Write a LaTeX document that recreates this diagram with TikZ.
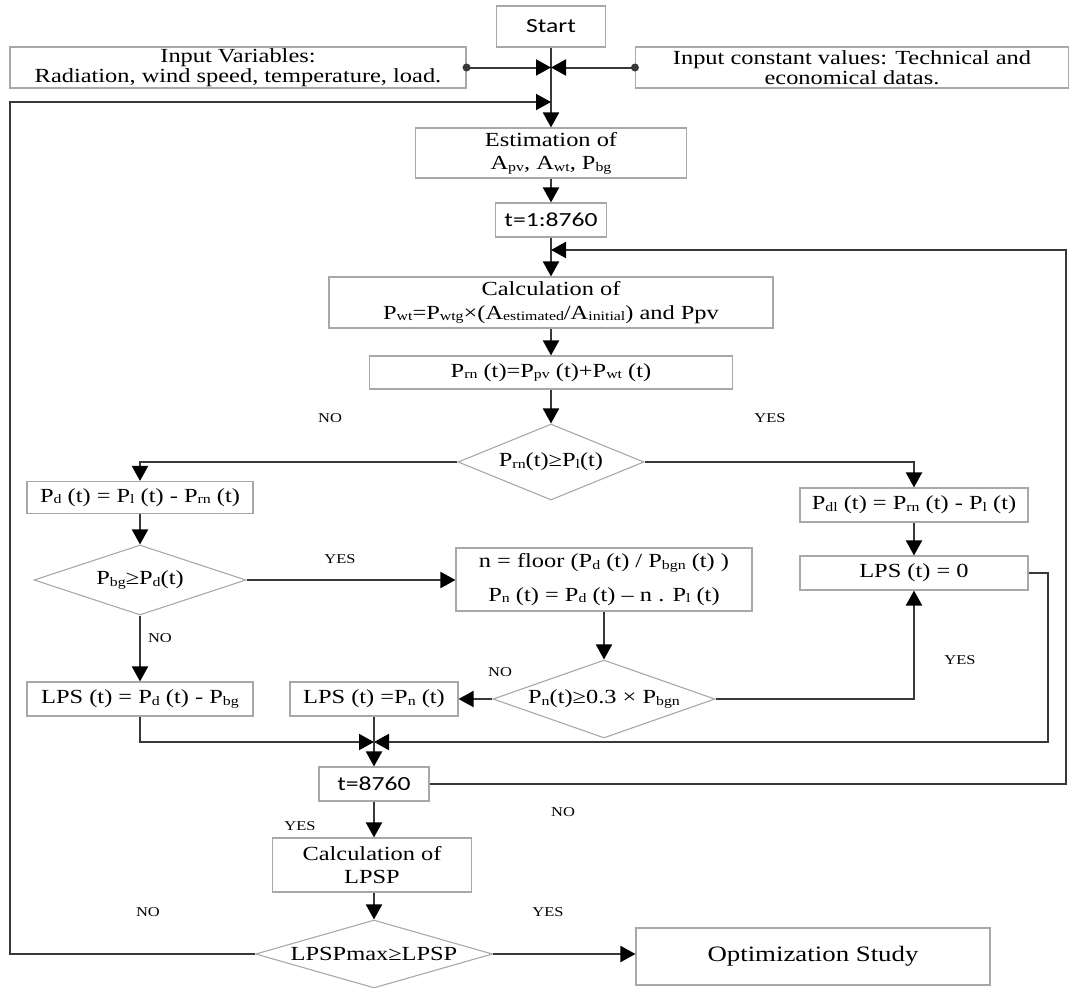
\documentclass[tikz,border=0pt]{standalone}
\usepackage{fontspec}
\setmainfont{Liberation Serif}[FakeStretch=1.22]
\newfontfamily\calfont{Carlito}[FakeStretch=1.28]
\usetikzlibrary{arrows.meta,shapes.geometric}
\definecolor{boxgray}{HTML}{A8A8A8}
\definecolor{linec}{HTML}{383838}
\newcommand{\lo}[1]{\raisebox{-1.5pt}{\fontsize{13}{13}\selectfont #1}}
\newcommand{\mainsz}{\fontsize{20}{23.5}\selectfont}
\newcommand{\inpsz}{\fontsize{20}{19.5}\selectfont}
\newcommand{\optsz}{\fontsize{22}{24}\selectfont}
\newcommand{\labsz}{\fontsize{13.5}{15}\selectfont}
\newcommand{\sanssz}{\calfont\fontsize{20}{23}\selectfont}
\begin{document}
\begin{tikzpicture}[x=1pt,y=-1pt,font=\mainsz,
  bx/.style={draw=boxgray,line width=1.1pt,inner sep=0pt,align=center},
  dia/.style={diamond,draw=boxgray,line width=1.1pt,inner sep=0pt,align=center},
  arr/.style={draw=linec,line width=2pt,-{Triangle[length=15pt,width=16pt,color=black]}},
  ln/.style={draw=linec,line width=2pt},
  lab/.style={font=\labsz,inner sep=0pt}]
\useasboundingbox (0,0) rectangle (1069,988);

% nodes
\node[bx,minimum width=109pt,minimum height=41pt,font=\sanssz] (start) at (551,26.5) {Start};
\node[bx,minimum width=456pt,minimum height=41pt,font=\inpsz] (inv) at (238,67.5) {Input Variables:\\Radiation, wind speed, temperature, load.};
\node[bx,minimum width=433pt,minimum height=41pt,font=\inpsz] (inc) at (852,67.5) {Input constant values: Technical and\\economical datas.};
\node[bx,minimum width=271pt,minimum height=50pt] (est) at (551,153) {Estimation of\\A\lo{pv}, A\lo{wt}, P\lo{bg}};
\node[bx,minimum width=111pt,minimum height=34pt,font=\sanssz] (t1) at (551,220) {t=1:8760};
\node[bx,minimum width=444pt,minimum height=51pt] (calc) at (551,302.5) {Calculation of\\P\lo{wt}=P\lo{wtg}×(A\lo{estimated}/A\lo{initial}) and Ppv};
\node[bx,minimum width=363pt,minimum height=33pt] (prn) at (551,372.5) {P\lo{rn} (t)=P\lo{pv} (t)+P\lo{wt} (t)};
\node[dia,minimum width=186pt,minimum height=76pt,aspect=2.45] (d1) at (551,462) {P\lo{rn}(t)≥P\lo{l}(t)};
\node[bx,minimum width=226pt,minimum height=32pt] (pd) at (140,497.5) {P\lo{d} (t) = P\lo{l} (t) - P\lo{rn} (t)};
\node[bx,minimum width=228pt,minimum height=34pt] (pdl) at (914,505) {P\lo{dl} (t) = P\lo{rn} (t) - P\lo{l} (t)};
\node[bx,minimum width=228pt,minimum height=34pt] (lps0) at (914,573) {LPS (t) = 0};
\node[dia,minimum width=212pt,minimum height=70pt,aspect=3] (d2) at (140,580) {P\lo{bg}≥P\lo{d}(t)};
\node[bx,minimum width=296pt,minimum height=63pt] (nb) at (604,579.5) {n = floor (P\lo{d} (t) / P\lo{bgn} (t) )\\[10pt]P\lo{n} (t) = P\lo{d} (t) – n . P\lo{l} (t)};
\node[bx,minimum width=226pt,minimum height=34pt] (lps1) at (140,699) {LPS (t) = P\lo{d} (t) - P\lo{bg}};
\node[dia,minimum width=222pt,minimum height=78pt,aspect=2.85] (d3) at (604,699) {P\lo{n}(t)≥0.3 × P\lo{bgn}};
\node[bx,minimum width=168pt,minimum height=34pt] (lps2) at (374,699) {LPS (t) =P\lo{n} (t)};
\node[bx,minimum width=110pt,minimum height=34pt,font=\sanssz] (t2) at (374,784) {t=8760};
\node[bx,minimum width=199pt,minimum height=54pt] (clpsp) at (372,865) {Calculation of\\LPSP};
\node[dia,minimum width=237pt,minimum height=68pt,aspect=3.5] (d4) at (374,954) {LPSPmax≥LPSP};
\node[bx,minimum width=354pt,minimum height=57pt,font=\optsz] (opt) at (813,956.5) {Optimization Study};

% labels
\node[lab] (l1) at (330,418) {NO};
\node[lab] (l2) at (770,418) {YES};
\node[lab] (l3) at (340,559) {YES};
\node[lab] (l4) at (160,638) {NO};
\node[lab] (l5) at (500,672) {NO};
\node[lab] (l6) at (960,660) {YES};
\node[lab] (l7) at (563,812) {NO};
\node[lab] (l8) at (300,826) {YES};
\node[lab] (l9) at (148,912) {NO};
\node[lab] (l10) at (548,912) {YES};

% coordinates
\coordinate (lj) at (551,102);
\coordinate (rj) at (551,250);
\coordinate (mj) at (374,742);
\coordinate (lcol) at (10,0);
\coordinate (rcol) at (1066,0);
\coordinate (rcol2) at (1048,0);

% top
\draw[ln] (start.south) -- (lj);
\draw[arr] (lj) -- (est.north);
\fill[linec] (inv.east) circle (4pt);
\fill[linec] (inc.west) circle (4pt);
\draw[arr] (inv.east) -- (inv.east -| start.south);
\draw[arr] (inc.west) -- (inc.west -| start.south);
\draw[arr] (d4.west) -- (d4.west -| lcol) |- (lj);

\draw[arr] (est) -- (t1);
\draw[ln] (t1.south) -- (rj);
\draw[arr] (rj) -- (calc.north);
\draw[arr] (t2.east) -- (t2.east -| rcol) |- (rj);
\draw[arr] (calc) -- (prn);
\draw[arr] (prn) -- (d1);
\draw[arr] (d1.west) -| (pd.north);
\draw[arr] (d1.east) -| (pdl.north);
\draw[arr] (pdl) -- (lps0);
\draw[arr] (pd) -- (d2);
\draw[arr] (d2.east) -- (d2.east -| nb.west);
\draw[arr] (d2) -- (lps1);
\draw[arr] (nb) -- (d3);
\draw[arr] (d3.west) -- (lps2.east);
\draw[arr] (d3.east) -| (lps0.south);
\draw[arr] (lps0.east) -- (lps0.east -| rcol2) |- (mj);
\draw[arr] (lps1.south) |- (mj);
\draw[arr] (lps2) -- (t2);
\draw[arr] (t2.south) -- (t2.south |- clpsp.north);
\draw[arr] (t2.south |- clpsp.south) -- (d4.north);
\draw[arr] (d4.east) -- (d4.east -| opt.west);
\end{tikzpicture}
\end{document}
